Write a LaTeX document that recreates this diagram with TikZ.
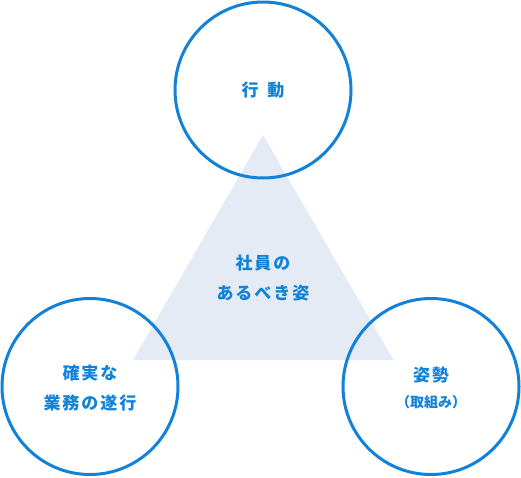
\documentclass[tikz,border=0pt]{standalone}
\usepackage{fontspec}
\newfontfamily\jp{Noto Sans CJK JP}
\definecolor{mainblue}{HTML}{1282D8}
\definecolor{trifill}{HTML}{E4EBF4}
\newcommand\lsp{\hspace{2pt}}
\begin{document}
\begin{tikzpicture}[x=1pt,y=-1pt,
  ring/.style={circle,draw=mainblue,line width=3pt,minimum size=176pt,inner sep=0pt},
  lbl/.style={text=mainblue,font=\jp\bfseries\fontsize{17}{30}\selectfont,align=center,inner sep=0pt}]
\useasboundingbox (0,0) rectangle (521,477);
\fill[trifill] (263,135) coordinate (apex) -- (393.5,360) coordinate (br) -- (133,360) coordinate (bl) -- cycle;
\node[ring] (top) at (263,90) {};
\node[ring] (left) at (90,386.5) {};
\node[ring] (right) at (431,386.5) {};
\node[lbl] (tt) at (263,90) {行\hspace{9pt}動};
\node[lbl] (ct) at (263,278) {社\lsp 員\lsp の\\あ\lsp る\lsp べ\lsp き\lsp 姿};
\node[lbl] (lt) at (90,388) {確\lsp 実\lsp な\\業\lsp 務\lsp の\lsp 遂\lsp 行};
\node[lbl] (rt) at (431,375) {姿\lsp 勢};
\node[lbl,font=\jp\bfseries\fontsize{14}{16}\selectfont] (rs) at (431,402) {（取組み）};
\end{tikzpicture}
\end{document}
